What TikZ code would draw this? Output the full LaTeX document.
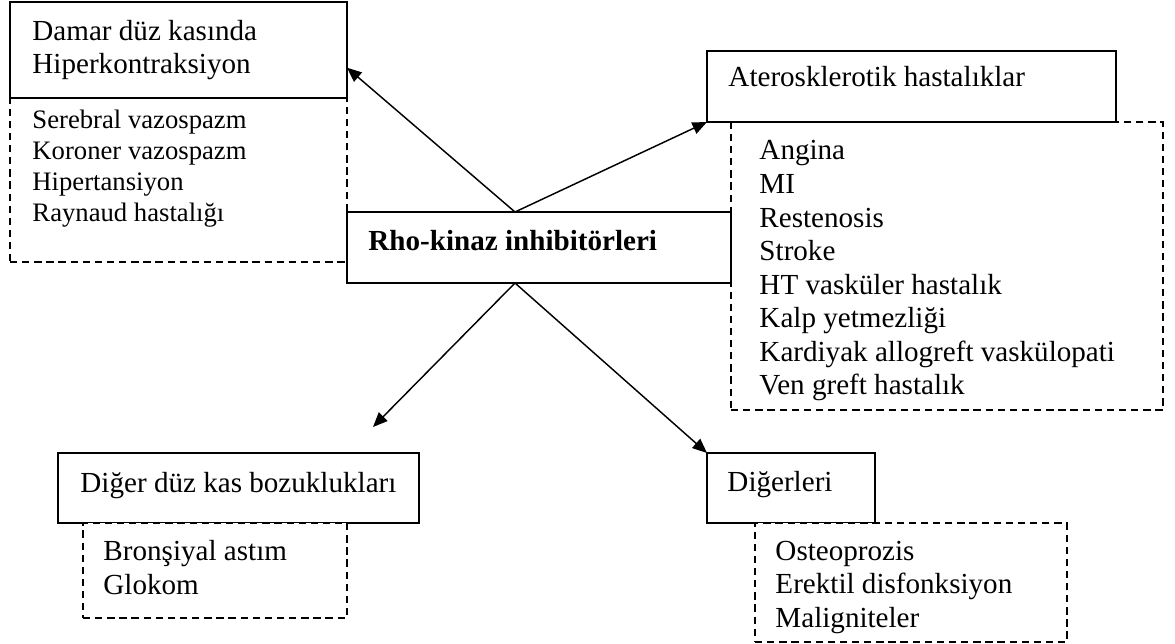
\documentclass[tikz,border=0pt]{standalone}
\usepackage{fontspec}
\setmainfont{Liberation Serif}
\usetikzlibrary{arrows.meta,positioning,calc}
\newlength{\pxu}
\setlength{\pxu}{0.4124pt}

\begin{document}
\begin{tikzpicture}[x=0.4124pt,y=-0.4124pt,>={Triangle[length=6pt,width=5pt]},
   frame/.style={draw,line width=0.55pt,inner sep=0pt,outer sep=0pt,anchor=north west,fill=white},
   dashframe/.style={frame,dash pattern=on 3pt off 2pt},
   txt/.style={anchor=base west,inner sep=0pt,font=\fontsize{12}{14}\selectfont},
   smalltxt/.style={anchor=base west,inner sep=0pt,font=\fontsize{11}{13}\selectfont},
   conn/.style={->,line width=0.6pt}]
  \useasboundingbox (0,0) rectangle (1175,644);

  % ---- upper left: vascular smooth muscle ----
  \node[dashframe,minimum width=337*\pxu,minimum height=164*\pxu] (damarlist) at (10,98) {};
  \node[frame,minimum width=337*\pxu,minimum height=96*\pxu] (damar) at (10,2) {};
  \node[txt] (damar1) at (32,41) {Damar düz kasında};
  \node[txt] (damar2) at (32,74) {Hiperkontraksiyon};
  \foreach \t [count=\i from 0] in {Serebral vazospazm,Koroner vazospazm,Hipertansiyon,Raynaud hastalığı}
    \node[smalltxt] (dl\i) at (32,129+30.67*\i) {\t};

  % ---- upper right: atherosclerotic diseases ----
  \node[dashframe,minimum width=432*\pxu,minimum height=288*\pxu] (aterlist) at (731,122) {};
  \node[frame,minimum width=409*\pxu,minimum height=71*\pxu] (ater) at (707,51) {};
  \node[txt] (atert) at (728,87) {Aterosklerotik hastalıklar};
  \foreach \t [count=\i from 0] in {Angina,MI,Restenosis,Stroke,HT vasküler hastalık,Kalp yetmezliği,Kardiyak allogreft vaskülopati,Ven greft hastalık}
    \node[txt] (al\i) at (759,160+33.57*\i) {\t};

  % ---- centre ----
  \node[frame,minimum width=384*\pxu,minimum height=71*\pxu] (rho) at (347,212) {};
  \node[txt,font=\fontsize{12}{14}\selectfont\bfseries] (rhot) at (368,251) {Rho-kinaz inhibitörleri};

  % ---- lower left ----
  \node[frame,minimum width=361*\pxu,minimum height=70*\pxu] (diger) at (58,453) {};
  \node[dashframe,minimum width=264*\pxu,minimum height=95*\pxu] (digerlist) at (83,523) {};
  \node[txt] (digert) at (80,493) {Diğer düz kas bozuklukları};
  \foreach \t [count=\i from 0] in {Bronşiyal astım,Glokom}
    \node[txt] (dgl\i) at (103,561+34*\i) {\t};

  % ---- lower right ----
  \node[frame,minimum width=168*\pxu,minimum height=70*\pxu] (digerleri) at (707,453) {};
  \node[dashframe,minimum width=312*\pxu,minimum height=119*\pxu] (digerlerilist) at (755,523) {};
  \node[txt] (digerlerit) at (727,492) {Diğerleri};
  \foreach \t [count=\i from 0] in {Osteoprozis,Erektil disfonksiyon,Maligniteler}
    \node[txt] (drl\i) at (775,561+33*\i) {\t};

  % arrows
  \coordinate (rtop) at ($(rho.north west)!0.4375!(rho.north east)$);
  \coordinate (rbot) at ($(rho.south west)!0.4375!(rho.south east)$);
  \coordinate (dtip) at (373,427);
  \draw[conn] (rtop) -- (damar.354);
  \draw[conn] (rtop) -- (ater.south west);
  \draw[conn] (rbot) -- (dtip);
  \draw[conn] (rbot) -- (digerleri.north west);
\end{tikzpicture}
\end{document}
